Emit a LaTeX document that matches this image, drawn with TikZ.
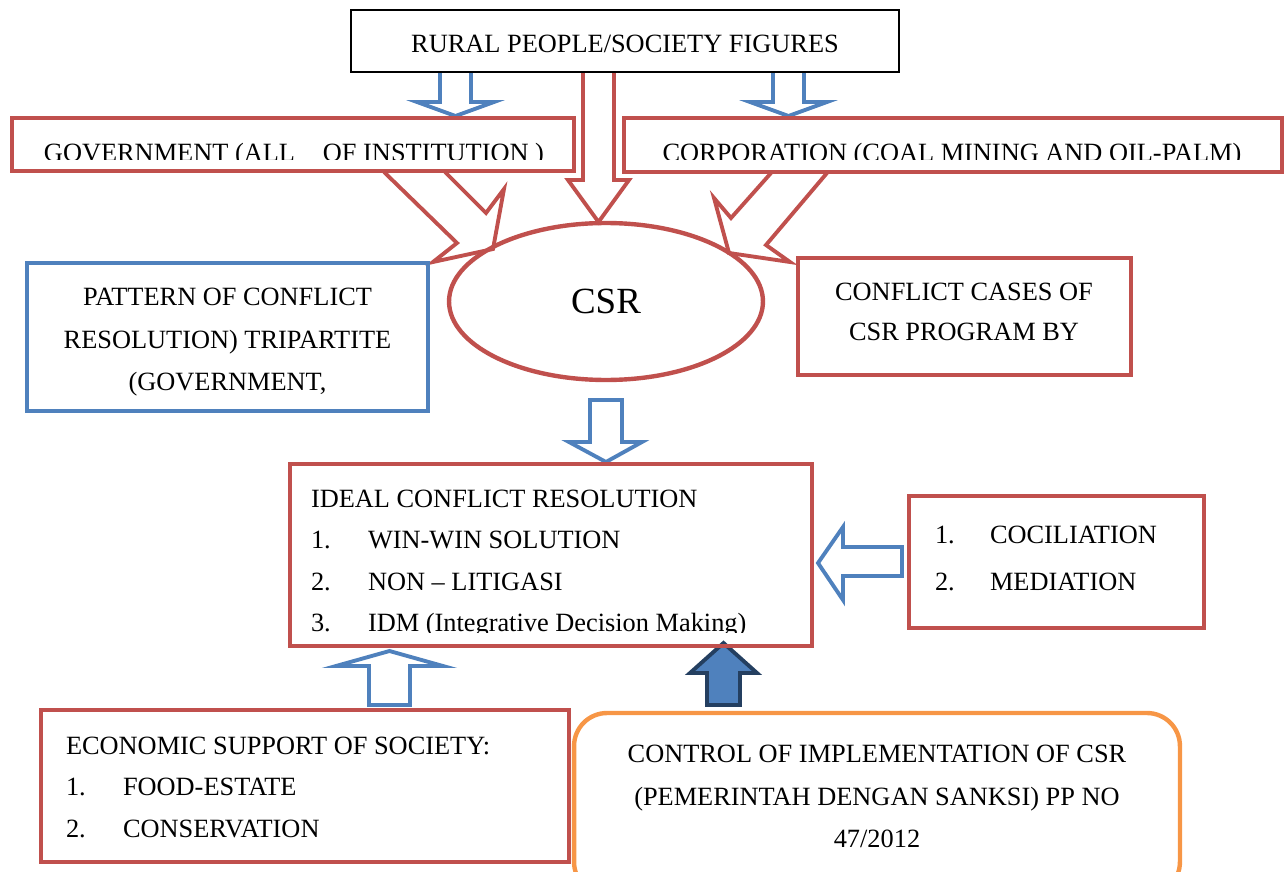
\documentclass[tikz,border=0pt]{standalone}
\usepackage{fontspec}
\setmainfont{Liberation Serif}
\usetikzlibrary{shapes.geometric}
\definecolor{cred}{HTML}{C0504D}
\definecolor{cblue}{HTML}{4F81BD}
\definecolor{corange}{HTML}{F79646}
\definecolor{cnavy}{HTML}{243F60}
\tikzset{
  txt/.style={inner sep=0pt, outer sep=0pt, anchor=base, font=\fontsize{15pt}{18pt}\selectfont},
  txtl/.style={txt, anchor=base west},
  redbox/.style={draw=cred, line width=2.5pt, rectangle, inner sep=0pt},
  bluebox/.style={draw=cblue, line width=2.3pt, rectangle, inner sep=0pt},
  blackbox/.style={draw=black, line width=1.2pt, rectangle, inner sep=0pt},
  orangebox/.style={draw=corange, line width=2.5pt, rectangle, rounded corners=0.66cm, inner sep=0pt},
  bluearrow/.style={draw=cblue, line width=2.2pt, fill=white, line join=miter},
  redarrow/.style={draw=cred, line width=2.2pt, fill=white, line join=miter},
  filledarrow/.style={draw=cnavy, line width=2.2pt, fill=cblue, line join=miter},
}
\begin{document}
\begin{tikzpicture}[x=0.02cm, y=-0.02cm]
\useasboundingbox (0,0) rectangle (1286,872);

% ---- block arrows ----
% rural -> government / corporation (blue, down)
\draw[bluearrow] (471,73) -- (471,102) -- (494,102) -- (455.5,116) -- (417,102) -- (440,102) -- (440,73);
\draw[bluearrow] (804,73) -- (804,102) -- (827,102) -- (788.5,116) -- (750,102) -- (773,102) -- (773,73);
% rural -> CSR (red, down)
\draw[redarrow] (614,73) -- (614,180) -- (629,180) -- (598.5,222) -- (568,180) -- (583,180) -- (583,73);
% government -> CSR (red, diagonal)
\draw[redarrow] (384,172) -- (457,243) -- (433,262) -- (493,249) -- (504,189) -- (486,213) -- (445,172);
% corporation -> CSR (red, diagonal)
\draw[redarrow] (827,173) -- (766,245) -- (790,262) -- (729,253) -- (714,198) -- (731,218) -- (771,173);
% CSR -> ideal (blue, down)
\draw[bluearrow] (590,400) -- (622,400) -- (622,442) -- (642,442) -- (606,462) -- (569,442) -- (590,442) -- cycle;
% conciliation -> ideal (blue, left)
\draw[bluearrow] (902,547) -- (902,576) -- (843,576) -- (843,600) -- (818,563) -- (843,527) -- (843,547) -- cycle;
% economic -> ideal (blue, up)
\draw[bluearrow] (369,705) -- (410,705) -- (410,666) -- (443,666) -- (389.5,651) -- (336,666) -- (369,666) -- cycle;
% control -> ideal (filled, up)
\draw[filledarrow] (707,705) -- (740,705) -- (740,673) -- (757,673) -- (723.5,643) -- (690,673) -- (707,673) -- cycle;

% ---- boxes ----
\node[blackbox, fill=white, minimum width=10.96cm, minimum height=1.24cm] (rural) at (625,41) {};
\node[txt] (ruraltext) at (625,52) {RURAL PEOPLE/SOCIETY FIGURES};

\node[redbox, minimum width=11.24cm, minimum height=1.06cm] (gov) at (293,144.5) {};
\begin{scope}
  \clip (0,0) rectangle (1286,159);
  \node[txt] (govtext) at (294,161) {GOVERNMENT (ALL\hspace{1.06em}OF INSTITUTION )};
  \node[txt] (corptext) at (952,161) {CORPORATION (COAL MINING AND OIL-PALM)};
\end{scope}
\node[redbox, minimum width=13.16cm, minimum height=1.08cm] (corp) at (953,145) {};

\node[bluebox, minimum width=8.02cm, minimum height=2.96cm] (pattern) at (227.5,337) {};
\node[txt] (pat1) at (227.5,305) {PATTERN OF CONFLICT};
\node[txt] (pat2) at (227.5,348) {RESOLUTION) TRIPARTITE};
\node[txt] (pat3) at (227.5,390) {(GOVERNMENT,};

\node[draw=cred, line width=2.5pt, ellipse, inner sep=0pt, minimum width=6.28cm, minimum height=3.14cm,
      font=\fontsize{21pt}{25pt}\selectfont] (csr) at (606,301.5) {CSR};

\node[redbox, minimum width=6.66cm, minimum height=2.34cm] (cases) at (964.5,316.5) {};
\node[txt] (cases1) at (964,300) {CONFLICT CASES OF};
\node[txt] (cases2) at (964,340) {CSR PROGRAM BY};

\node[redbox, minimum width=10.44cm, minimum height=3.64cm] (ideal) at (551,555) {};
\node[txtl] (ideal0) at (311,507) {IDEAL CONFLICT RESOLUTION};
\node[txtl] (ideal1n) at (311,548) {1.};
\node[txtl] (ideal1) at (368,548) {WIN-WIN SOLUTION};
\node[txtl] (ideal2n) at (311,590) {2.};
\node[txtl] (ideal2) at (368,590) {NON – LITIGASI};
\begin{scope}
  \clip (0,600) rectangle (1286,632.5);
  \node[txtl] (ideal3n) at (311,631) {3.};
  \node[txtl] (ideal3) at (368,631) {IDM (Integrative Decision Making)};
\end{scope}

\node[redbox, minimum width=5.9cm, minimum height=2.64cm] (concil) at (1056.5,562) {};
\node[txtl] (concil1n) at (935,543) {1.};
\node[txtl] (concil1) at (990,543) {COCILIATION};
\node[txtl] (concil2n) at (935,590) {2.};
\node[txtl] (concil2) at (990,590) {MEDIATION};

\node[redbox, minimum width=10.56cm, minimum height=3.04cm] (econ) at (305,786) {};
\node[txtl] (econ0) at (66,754) {ECONOMIC SUPPORT OF SOCIETY:};
\node[txtl] (econ1n) at (66,795) {1.};
\node[txtl] (econ1) at (123,795) {FOOD-ESTATE};
\node[txtl] (econ2n) at (66,837) {2.};
\node[txtl] (econ2) at (123,837) {CONSERVATION};

\begin{scope}
  \clip (0,0) rectangle (1286,872);
  \node[orangebox, minimum width=12.12cm, minimum height=3.64cm] (control) at (877,804) {};
\end{scope}
\node[txt] (control1) at (877,762) {CONTROL OF IMPLEMENTATION OF CSR};
\node[txt] (control2) at (877,805) {(PEMERINTAH DENGAN SANKSI) PP NO};
\node[txt] (control3) at (877,847) {47/2012};
\end{tikzpicture}
\end{document}
